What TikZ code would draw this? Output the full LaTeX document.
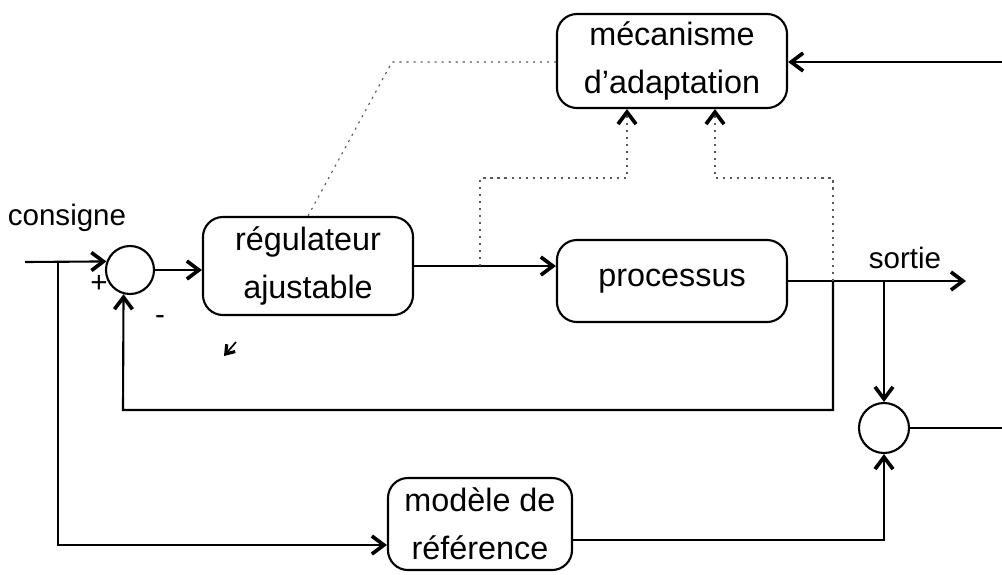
\documentclass[tikz,border=0pt]{standalone}
\usepackage{fontspec}
\setmainfont{Liberation Sans}
\usetikzlibrary{arrows.meta}
\begin{document}
\begin{tikzpicture}[x=0.025cm,y=-0.025cm,
  line width=1.5pt,
  arr/.style={-{Straight Barb[length=0.3cm,width=0.45cm,line width=2.6pt,black]}},
  blk/.style={draw,rounded corners=0.5cm,align=center,font=\fontsize{23}{34}\selectfont,inner sep=0pt},
  sumc/.style={draw,circle,inner sep=0pt},
  sig/.style={gray!70!black,line width=0.8pt,dash pattern=on 1.5pt off 3.5pt},
  lbl/.style={font=\fontsize{21}{25}\selectfont,inner sep=0pt}]
\useasboundingbox (0,0) rectangle (1002,574);
% blocks
\node[blk,minimum width=5.25cm,minimum height=2.45cm] (reg) at (308,266) {régulateur\\ajustable};
\node[blk,minimum width=5.75cm,minimum height=2.05cm] (proc) at (672,281) {processus};
\node[blk,minimum width=5.75cm,minimum height=2.35cm] (meca) at (672,61) {mécanisme\\d'adaptation};
\node[blk,minimum width=4.6cm,minimum height=2.3cm] (mod) at (480,524) {modèle de\\référence};
\node[sumc,minimum size=1.2cm] (s1) at (130,270) {};
\node[sumc,minimum size=1.25cm] (s2) at (884,428) {};
% labels
\node[lbl] (cons) at (67,218) {consigne};
\node[lbl] (sort) at (905,258) {sortie};
\node[lbl] (plus) at (99,284) {+};
\node[lbl] (minus) at (160,320) {-};
% coordinates
\coordinate (in) at (25,262);
\coordinate (b) at (58,262);
\coordinate (bm) at (58,545);
\coordinate (out) at (966,281);
\coordinate (j1) at (833,281);
\coordinate (j2) at (884,281);
\coordinate (fbR) at (833,410);
\coordinate (fbL) at (123,410);
\coordinate (mout) at ([yshift=-0.4cm]mod.east);
\coordinate (e2) at (1002,428);
\coordinate (mr) at (1002,62);
\coordinate (u) at (480,266);
\coordinate (d1) at (627,178);
\coordinate (d2) at (715,178);
\coordinate (dg) at (392,62);
\coordinate (m1) at (236,342);
\coordinate (m2) at (224,356);
% main signal lines
\draw[arr] (in) -- (s1.160);
\draw[arr] (b) -- (bm) -- (bm -| mod.west);
\draw[arr] (s1.east) -- (s1.east -| reg.west);
\draw[arr] (reg.east) -- (reg.east -| proc.west);
\draw[arr] (proc.east) -- (out);
\draw[arr] (j1) -- (fbR) -- (fbL) -- (s1.255);
\draw[arr] (j2) -- (s2.north);
\draw[arr] (mout) -| (s2.south);
\draw (s2.east) -- (e2);
\draw[arr] (mr) -- (mr -| meca.east);
% adaptation (dotted) lines
\draw[sig,arr] (j1) |- (d2) -- (d2 |- meca.south);
\draw[sig,arr] (u) |- (d1) -- (d1 |- meca.south);
\draw[sig] (reg.north) -- (dg) -- (dg -| meca.west);
% stray mark
\draw[line width=1.2pt,-{Straight Barb[length=0.2cm,width=0.28cm,line width=2.2pt]}] (m1) -- (m2);
\end{tikzpicture}
\end{document}
